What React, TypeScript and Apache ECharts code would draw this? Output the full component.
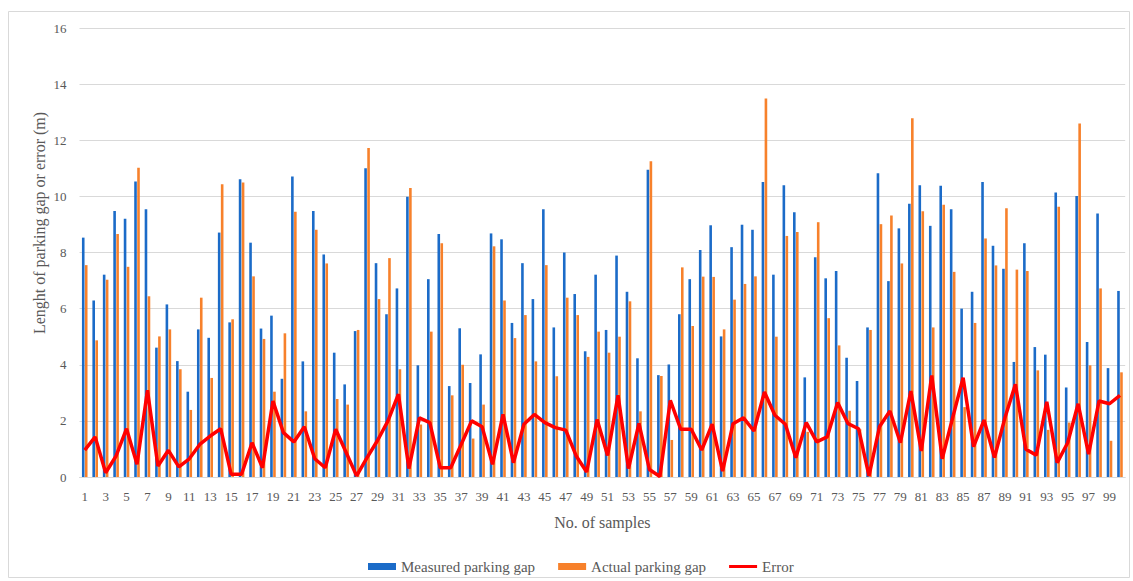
import React, { useEffect, useRef } from "react";
import * as echarts from "echarts";

const categories = [
  "1","2","3","4","5","6","7","8","9","10",
  "11","12","13","14","15","16","17","18","19","20",
  "21","22","23","24","25","26","27","28","29","30",
  "31","32","33","34","35","36","37","38","39","40",
  "41","42","43","44","45","46","47","48","49","50",
  "51","52","53","54","55","56","57","58","59","60",
  "61","62","63","64","65","66","67","68","69","70",
  "71","72","73","74","75","76","77","78","79","80",
  "81","82","83","84","85","86","87","88","89","90",
  "91","92","93","94","95","96","97","98","99","100",
];

const measured = [
  8.53, 6.29, 7.21, 9.48, 9.2, 10.53, 9.54, 4.61, 6.15, 4.13,
  3.04, 5.26, 4.96, 8.71, 5.51, 10.61, 8.35, 5.29, 5.75, 3.5,
  10.71, 4.12, 9.48, 7.93, 4.43, 3.3, 5.2, 11.0, 7.62, 5.8,
  6.72, 9.99, 3.98, 7.05, 8.66, 3.24, 5.3, 3.35, 4.37, 8.68,
  8.47, 5.49, 7.62, 6.34, 9.54, 5.33, 8.0, 6.52, 4.48, 7.21,
  5.24, 7.89, 6.6, 4.23, 10.95, 3.63, 4.01, 5.8, 7.05, 8.09,
  8.97, 5.01, 8.19, 8.99, 8.81, 10.51, 7.21, 10.4, 9.43, 3.55,
  7.83, 7.08, 7.34, 4.25, 3.42, 5.33, 10.82, 6.98, 8.86, 9.74,
  10.4, 8.95, 10.38, 9.54, 6.0, 6.6, 10.51, 8.24, 7.42, 4.1,
  8.33, 4.63, 4.36, 10.14, 3.19, 10.01, 4.81, 9.39, 3.88, 6.63,
];

const actual = [
  7.55, 4.87, 7.03, 8.66, 7.49, 11.02, 6.44, 5.01, 5.26, 3.84,
  2.39, 6.39, 3.53, 10.43, 5.62, 10.49, 7.15, 4.92, 3.04, 5.12,
  9.45, 2.34, 8.81, 7.61, 2.78, 2.58, 5.24, 11.72, 6.34, 7.8,
  3.84, 10.3, 1.87, 5.18, 8.33, 2.91, 4.0, 1.37, 2.58, 8.22,
  6.29, 4.95, 5.77, 4.12, 7.55, 3.59, 6.39, 5.77, 4.28, 5.18,
  4.43, 5.0, 6.26, 2.34, 11.25, 3.6, 1.32, 7.47, 5.38, 7.14,
  7.13, 5.26, 6.32, 6.88, 7.15, 13.49, 5.0, 8.59, 8.73, 1.61,
  9.08, 5.66, 4.69, 2.36, 1.7, 5.24, 9.01, 9.32, 7.61, 12.78,
  9.47, 5.33, 9.7, 7.31, 2.49, 5.49, 8.5, 7.54, 9.58, 7.39,
  7.34, 3.8, 1.68, 9.63, 1.94, 12.6, 3.98, 6.72, 1.29, 3.73,
];

const errorValues = [
  0.96, 1.43, 0.15, 0.75, 1.72, 0.45, 3.09, 0.39, 0.95, 0.36,
  0.65, 1.16, 1.46, 1.72, 0.1, 0.1, 1.22, 0.33, 2.71, 1.58,
  1.25, 1.79, 0.65, 0.33, 1.7, 0.87, 0.04, 0.69, 1.3, 2.0,
  2.95, 0.3, 2.11, 1.94, 0.33, 0.33, 1.16, 2.0, 1.79, 0.45,
  2.23, 0.51, 1.88, 2.23, 1.94, 1.76, 1.67, 0.75, 0.18, 2.05,
  0.77, 2.91, 0.3, 1.91, 0.27, 0.02, 2.73, 1.7, 1.7, 0.96,
  1.88, 0.21, 1.9, 2.11, 1.64, 3.03, 2.2, 1.88, 0.69, 1.94,
  1.25, 1.43, 2.65, 1.9, 1.72, 0.04, 1.79, 2.35, 1.22, 3.06,
  0.93, 3.62, 0.65, 2.11, 3.54, 1.08, 2.03, 0.69, 2.11, 3.3,
  0.99, 0.78, 2.68, 0.51, 1.22, 2.61, 0.81, 2.71, 2.61, 2.91,
];

const seriesNames = ["Measured parking gap", "Actual parking gap", "Error"];
const xAxisTitle = "No. of samples";
const yAxisTitle = "Lenght of parking gap or error (m)";

const FONT = "'Liberation Serif', 'DejaVu Serif', serif";
const TEXT_COLOR = "#595959";
const LINE_ICON = "path://M0,0H0.5V0.01H0Z M0,2H30V5H0Z M0,6.99H0.5V7H0Z";

export default function App() {
  const ref = useRef<HTMLDivElement>(null);

  useEffect(() => {
    if (!ref.current) return;
    const chart = echarts.init(ref.current, undefined, { renderer: "svg" });
    chart.setOption({
      animation: false,
      backgroundColor: "#ffffff",
      textStyle: { fontFamily: FONT },
      grid: { left: 79.5, right: 7.8, top: 28, bottom: 104, containLabel: false },
      graphic: [
        {
          type: "rect",
          shape: { x: 8.5, y: 11.5, width: 1121, height: 566 },
          style: { fill: "none", stroke: "#d9d9d9", lineWidth: 1 },
          silent: true,
          z: -10,
        },
        {
          type: "text",
          x: 39,
          y: 223,
          rotation: Math.PI / 2,
          style: {
            text: yAxisTitle,
            font: `16px ${FONT}`,
            fill: TEXT_COLOR,
            textAlign: "center",
            textVerticalAlign: "middle",
          },
        },
      ],
      legend: {
        left: 363,
        top: 554,
        itemWidth: 28,
        itemHeight: 7,
        itemGap: 23,
        textStyle: { fontFamily: FONT, fontSize: 15, color: TEXT_COLOR },
        data: [
          { name: seriesNames[0], icon: "rect" },
          { name: seriesNames[1], icon: "rect" },
          { name: seriesNames[2], icon: LINE_ICON, itemStyle: { color: "#FF0000" } },
        ],
      },
      xAxis: {
        type: "category",
        data: categories,
        boundaryGap: true,
        name: xAxisTitle,
        nameLocation: "middle",
        nameGap: 37,
        nameTextStyle: { fontFamily: FONT, fontSize: 16, color: TEXT_COLOR },
        axisLine: { show: true, lineStyle: { color: "#d9d9d9", width: 1 } },
        axisTick: { show: false },
        axisLabel: {
          interval: 1,
          margin: 13,
          fontFamily: FONT,
          fontSize: 13,
          color: TEXT_COLOR,
        },
        splitLine: { show: false },
      },
      yAxis: {
        type: "value",
        min: 0,
        max: 16,
        interval: 2,
        axisLine: { show: false },
        axisTick: { show: false },
        axisLabel: {
          margin: 13,
          fontFamily: FONT,
          fontSize: 13,
          color: TEXT_COLOR,
        },
        splitLine: { show: true, lineStyle: { color: "#d9d9d9", width: 1 } },
      },
      series: [
        {
          name: seriesNames[0],
          type: "bar",
          data: measured,
          barWidth: 2.6,
          barGap: "15%",
          itemStyle: { color: "#1B6BC8" },
        },
        {
          name: seriesNames[1],
          type: "bar",
          data: actual,
          barWidth: 2.6,
          barGap: "15%",
          itemStyle: { color: "#F7812B" },
        },
        {
          name: seriesNames[2],
          type: "line",
          data: errorValues,
          symbol: "none",
          showSymbol: false,
          lineStyle: { color: "#FF0000", width: 3.5 },
          itemStyle: { color: "#FF0000" },
          z: 5,
        },
      ],
    });
    return () => chart.dispose();
  }, []);

  return (
    <div
      ref={ref}
      style={{ position: "fixed", left: 0, top: 0, width: 1133, height: 581 }}
    />
  );
}
